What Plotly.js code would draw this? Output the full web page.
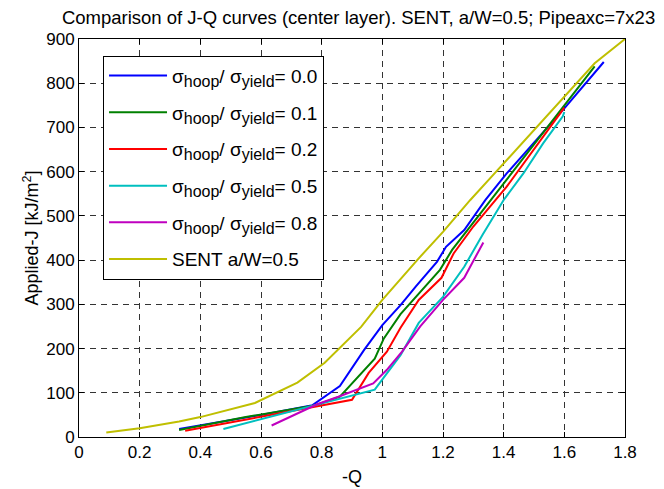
<!DOCTYPE html>
<html>
<head>
<meta charset="utf-8">
<script src="https://cdn.plot.ly/plotly-3.0.1.min.js"></script>
<style>html,body{margin:0;padding:0;background:#fff;}</style>
</head>
<body>
<div id="chart" style="width:664px;height:489px;"></div>
<script>
// Series names
const seriesNames = [
  "σ<sub><span style='font-size:16px'>hoop</span></sub>/ σ<sub><span style='font-size:16px'>yield</span></sub>= 0.0",
  "σ<sub><span style='font-size:16px'>hoop</span></sub>/ σ<sub><span style='font-size:16px'>yield</span></sub>= 0.1",
  "σ<sub><span style='font-size:16px'>hoop</span></sub>/ σ<sub><span style='font-size:16px'>yield</span></sub>= 0.2",
  "σ<sub><span style='font-size:16px'>hoop</span></sub>/ σ<sub><span style='font-size:16px'>yield</span></sub>= 0.5",
  "σ<sub><span style='font-size:16px'>hoop</span></sub>/ σ<sub><span style='font-size:16px'>yield</span></sub>= 0.8",
  "SENT a/W=0.5"
];
// -Q values and Applied-J values
const q00 = [0.33, 0.60, 0.77, 0.86, 0.94, 1.00, 1.06, 1.11, 1.18, 1.21, 1.27, 1.34, 1.41, 1.60, 1.73];
const j00 = [18, 50, 72, 115, 197, 253, 298, 340, 396, 430, 468, 536, 596, 743, 848];
const q01 = [0.33, 0.55, 0.78, 0.86, 0.975, 1.005, 1.06, 1.12, 1.19, 1.23, 1.29, 1.50, 1.70];
const j01 = [16, 45, 72, 91, 177, 223, 278, 325, 378, 423, 476, 664, 838];
const q02 = [0.35, 0.60, 0.78, 0.90, 0.955, 1.015, 1.06, 1.12, 1.195, 1.235, 1.30, 1.41, 1.60];
const j02 = [14, 46, 70, 84, 145, 193, 247, 310, 360, 415, 476, 566, 745];
const q05 = [0.476, 0.77, 0.975, 1.06, 1.12, 1.20, 1.27, 1.33, 1.40, 1.465, 1.53, 1.595, 1.60];
const j05 = [18, 70, 107, 185, 258, 317, 385, 457, 536, 596, 664, 725, 735];
const q08 = [0.635, 0.785, 0.855, 0.97, 1.015, 1.065, 1.125, 1.20, 1.27, 1.333];
const j08 = [26, 74, 91, 121, 152, 193, 250, 310, 360, 440];
const qS = [0.09, 0.20, 0.33, 0.40, 0.58, 0.72, 0.81, 0.87, 0.93, 1.00, 1.12, 1.20, 1.29, 1.37, 1.55, 1.70, 1.80];
const jS = [10, 20, 35, 45, 77, 123, 168, 208, 249, 310, 404, 464, 536, 596, 732, 845, 900];
const xTicks = [0, 0.2, 0.4, 0.6, 0.8, 1, 1.2, 1.4, 1.6, 1.8];
const xTickText = ["0", "0.2", "0.4", "0.6", "0.8", "1", "1.2", "1.4", "1.6", "1.8"];
const yTicks = [0, 100, 200, 300, 400, 500, 600, 700, 800, 900];

const colors = ["#0000FF", "#008000", "#FF0000", "#00BFBF", "#BF00BF", "#BFBF00"];
const xs = [q00, q01, q02, q05, q08, qS];
const ys = [j00, j01, j02, j05, j08, jS];

const traces = xs.map((x, i) => ({
  x: x, y: ys[i], type: "scatter", mode: "lines",
  name: seriesNames[i], legendgroup: "g" + i,
  line: {color: colors[i], width: 2}
}));

const font = "Liberation Sans, Arial, sans-serif";
const layout = {
  width: 664, height: 489,
  margin: {l: 79, r: 39, t: 39, b: 52},
  paper_bgcolor: "#fff", plot_bgcolor: "#fff",
  font: {family: font, size: 17, color: "#000"},
  title: {text: "Comparison of J-Q curves (center layer). SENT, a/W=0.5; Pipeaxc=7x23",
          font: {family: font, size: 18.5, color: "#000"},
          x: 0.540, xanchor: "center", y: 0.965, yanchor: "middle"},
  xaxis: {range: [0, 1.8], tickvals: xTicks, ticktext: xTickText,
          tickfont: {size: 17},
          showgrid: true, gridcolor: "#333", griddash: "6px,5px", gridwidth: 1,
          zeroline: false, showline: true, linecolor: "#000", linewidth: 1, mirror: "ticks",
          ticks: "inside", ticklen: 5, tickcolor: "#000",
          title: {text: "-Q", font: {size: 18}, standoff: 8}},
  yaxis: {range: [0, 900], tickvals: yTicks,
          tickfont: {size: 17},
          showgrid: true, gridcolor: "#333", griddash: "6px,5px", gridwidth: 1,
          zeroline: false, showline: true, linecolor: "#000", linewidth: 1, mirror: "ticks",
          ticks: "inside", ticklen: 5, tickcolor: "#000",
          title: {text: "Applied-J [kJ/m<sup>2</sup>]", font: {size: 18}, standoff: 2}},
  legend: {x: 0.044, y: 0.958, xanchor: "left", yanchor: "top",
           bgcolor: "#fff", bordercolor: "#000", borderwidth: 1,
           font: {family: font, size: 19, color: "#000"},
           tracegroupgap: 9, itemwidth: 58},
  showlegend: true
};

Plotly.newPlot("chart", traces, layout, {displayModeBar: false, staticPlot: true});
</script>
</body>
</html>
